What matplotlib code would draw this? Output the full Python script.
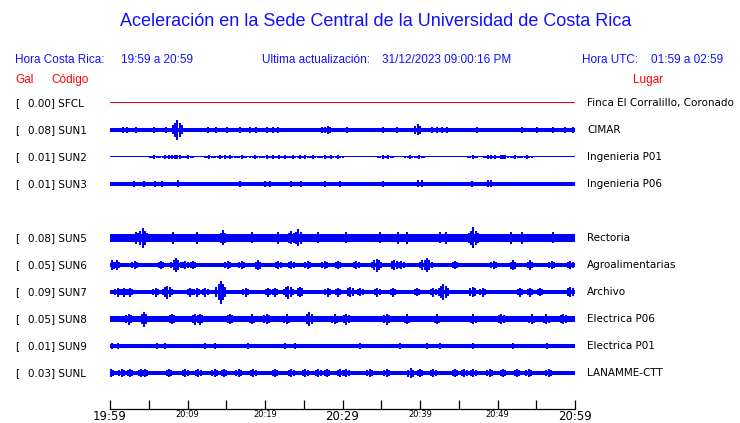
import matplotlib
matplotlib.use("Agg")
import matplotlib.pyplot as plt

W, H = 740, 423

# stations (top to bottom); slot 4 is empty in the picture
codes = ["SFCL", "SUN1", "SUN2", "SUN3", "SUN5", "SUN6", "SUN7", "SUN8", "SUN9", "SUNL"]
slots = [0, 1, 2, 3, 5, 6, 7, 8, 9, 10]
gal = [0.00, 0.08, 0.01, 0.01, 0.08, 0.05, 0.09, 0.05, 0.01, 0.03]
places = ["Finca El Corralillo, Coronado", "CIMAR", "Ingenieria P01", "Ingenieria P06",
          "Rectoria", "Agroalimentarias", "Archivo", "Electrica P06", "Electrica P01", "LANAMME-CTT"]
colors = ["red"] + ["blue"] * 9

# background amplitude of each trace (display units, 27 per slot)
base_amp = [0.5, 1.6, 0.5, 1.6, 3.8, 1.8, 2.3, 3.4, 1.7, 2.0]

# bursts: minute after 19:59 and amplitude
bursts_t = [
    [],
    [1.7, 2.2, 3.4, 5.7, 7.2, 8.7, 12.6, 13.7, 15.1, 16.8, 18.1, 18.8, 20.3, 21.0, 21.7, 27.4, 28.1,
     30.6, 35.2, 37.0, 39.7, 41.5, 42.2, 42.8, 43.5, 47.4, 53.2, 55.1, 57.2, 58.7, 59.7],
    [5.7, 7.1, 7.6, 8.0, 8.4, 8.7, 10.1, 12.8, 14.2, 14.8, 15.5, 17.0, 18.7, 20.2, 21.0, 21.8, 22.6,
     23.6, 24.5, 25.2, 26.2, 27.7, 28.5, 29.4, 35.2, 35.9, 38.7, 39.9, 46.8, 48.8, 49.2, 49.7, 50.7,
     52.3, 53.8],
    [3.1, 4.4, 5.8, 6.7, 8.8, 16.8, 20.0, 20.6, 23.4, 24.7, 27.7, 29.7, 35.2, 39.7, 40.3, 46.7,
     48.8, 49.2],
    [3.4, 4.2, 8.1, 11.2, 14.6, 18.3, 21.7, 23.4, 24.3, 26.8, 30.5, 34.8, 37.2, 38.3, 42.6, 43.4,
     46.9, 51.8, 53.1, 57.2],
    [0.2, 0.9, 3.2, 6.6, 8.5, 9.7, 10.7, 15.2, 17.0, 19.1, 21.7, 23.4, 25.5, 27.7, 29.4, 31.8, 34.4,
     36.7, 37.6, 40.3, 40.9, 44.5, 49.5, 52.0, 54.2, 57.0, 59.4],
    [1.0, 1.8, 2.6, 5.9, 7.4, 10.3, 11.2, 12.3, 14.3, 14.6, 17.5, 20.4, 21.3, 23.0, 24.5, 28.1, 29.4,
     31.0, 32.3, 34.5, 36.5, 39.6, 41.7, 43.0, 46.8, 48.1, 52.9, 54.2, 55.5, 59.4],
    [2.4, 4.4, 8.0, 11.0, 11.6, 15.5, 18.3, 20.2, 22.8, 25.7, 29.0, 30.5, 35.7, 38.3, 42.2, 46.9,
     50.5, 54.4, 56.3, 58.5],
    [0.2, 1.0, 6.0, 7.1, 12.3, 13.5, 17.8, 22.6, 23.9, 32.3, 37.4, 40.9, 42.6, 46.8, 52.0, 56.4],
    [0.1, 1.5, 2.6, 4.0, 4.5, 7.6, 9.7, 11.4, 13.5, 14.7, 16.6, 18.5, 21.3, 23.4, 25.2, 26.9, 28.0,
     29.7, 30.5, 33.5, 35.7, 38.8, 40.0, 41.7, 44.5, 45.7, 46.9, 49.0, 50.7, 52.5, 54.0, 56.6],
]
bursts_a = [
    [],
    [3.2, 3.2, 3, 3, 3, 10, 3, 3, 3, 3, 3, 3, 3, 3, 3, 3, 4,
     3, 3, 3, 5.5, 3, 3, 3, 3, 3, 3, 3, 3, 3, 3.2],
    [1.8, 1.8, 1.8, 1.8, 1.8, 2.2, 1.8, 1.8, 1.8, 1.8, 1.8, 1.8, 1.8, 1.8, 1.8, 1.8, 1.8,
     1.8, 1.8, 1.8, 1.8, 1.8, 1.8, 1.8, 1.8, 1.8, 1.8, 1.8, 1.8, 1.8, 1.8, 1.8, 2.2,
     1.8, 1.8],
    [3, 3, 3, 3, 3.5, 3, 3, 3, 3, 3, 3, 3, 3, 3.5, 3.5, 3,
     3.5, 3.5],
    [6, 10, 6, 6, 7.5, 5.5, 6, 6.5, 8.5, 5.5, 5.5, 5.5, 6, 6, 5.5, 6,
     10.5, 6, 6, 5.5],
    [5, 4.5, 3.8, 3.8, 7, 3.8, 3.8, 3.8, 3.8, 5, 3.8, 3.8, 4, 3.8, 3.8, 3.8, 6.5,
     5.5, 3.8, 4.5, 7, 3.8, 4, 5, 4.5, 3.8, 3.8],
    [4.5, 4.5, 4.5, 4.5, 6.5, 4.5, 4.5, 4.5, 11.5, 5.5, 4.5, 4.5, 4.5, 6.5, 5.5, 4.5, 4.5,
     5.5, 4, 4.5, 4.5, 4, 4.5, 8, 5.5, 4.5, 4.5, 4.5, 4, 5.5],
    [5.5, 7.5, 5.2, 5.5, 5.5, 5.2, 5, 5.2, 5, 7, 5, 5.5, 5.5, 5, 5, 5,
     5.2, 5, 5, 5.2],
    [2.6, 2.6, 2.6, 2.6, 2.6, 2.6, 2.6, 2.6, 2.6, 2.6, 2.6, 2.6, 2.6, 2.6, 2.6, 2.6],
    [4, 3.8, 3.8, 3.8, 3.8, 4.5, 3.8, 3.8, 3.8, 4, 3.8, 3.8, 3.8, 3.8, 3.8, 4, 4,
     4, 4, 3.8, 3.8, 5, 3.8, 3.8, 3.8, 4.5, 3.8, 4, 4, 3.8, 4, 3.8],
]

tick_min = list(range(0, 61, 5))
tick_lab = ["19:59", "", "20:09", "", "20:19", "", "20:29", "", "20:39", "", "20:49", "", "20:59"]
big_ticks = ["19:59", "20:29", "20:59"]

slot_px = 27.0
fig = plt.figure(figsize=(W / 100, H / 100), dpi=100)


def fx(x):
    return x / W


def fy(y):
    return 1 - y / H


# trace area: first baseline at y=103 px, axis line at y=409 px
y_top = 103 - slot_px / 2
y_bot = 409
ax = fig.add_axes([fx(110), fy(y_bot), fx(575) - fx(110), fy(y_top) - fy(y_bot)])
ax.set_xlim(0, 60)
ax.set_ylim((y_bot - 103) / slot_px, -0.5)

# each burst drawn as a short wavelet: peak plus decaying shoulders
shape_dt = [0.0, -0.3, 0.3, -0.6, 0.6]
shape_k = [1.0, 0.7, 0.7, 0.45, 0.45]

for i in range(len(codes)):
    y0 = slots[i]
    b = base_amp[i] / slot_px
    ax.fill_between([0, 60], y0 - b, y0 + b, color=colors[i], lw=0, antialiased=False)
    xs, lo, hi = [], [], []
    for t, a in zip(bursts_t[i], bursts_a[i]):
        for dt, k in zip(shape_dt, shape_k):
            aa = max(a * k, base_amp[i]) / slot_px
            if 0 <= t + dt <= 60:
                xs.append(t + dt)
                lo.append(y0 - aa)
                hi.append(y0 + aa)
    if xs:
        ax.vlines(xs, lo, hi, color=colors[i], lw=1.1, antialiased=False)
    ty = fy(103 + y0 * slot_px)
    fig.text(fx(15), ty, "[", fontsize=7.5, va="center", family="DejaVu Sans")
    fig.text(fx(27.5), ty, f"{gal[i]:.2f}] {codes[i]}", fontsize=7.5, va="center", family="DejaVu Sans")
    fig.text(fx(587), ty, places[i], fontsize=7.5, va="center", family="DejaVu Sans")

for s in ["top", "left", "right"]:
    ax.spines[s].set_visible(False)
ax.spines["bottom"].set_linewidth(0.9)
ax.set_yticks([])
ax.set_xticks(tick_min)
ax.set_xticklabels(tick_lab)
ax.tick_params(axis="x", direction="in", length=6.5, width=0.9, pad=1)
for lab in ax.get_xticklabels():
    lab.set_family("DejaVu Sans")
    lab.set_fontsize(8.5 if lab.get_text() in big_ticks else 6)

# header
hdr = dict(family="Liberation Sans", color="#1010ff", va="center")
fig.text(0.5 * (fx(120) + fx(632)), fy(22),
         "Aceleración en la Sede Central de la Universidad de Costa Rica",
         fontsize=13, ha="center", **hdr)
fig.text(fx(15), fy(60), "Hora Costa Rica:", fontsize=8.5, **hdr)
fig.text(fx(121), fy(60), "19:59 a 20:59", fontsize=8.5, **hdr)
fig.text(fx(262), fy(60), "Ultima actualización:", fontsize=8.5, **hdr)
fig.text(fx(382), fy(60), "31/12/2023 09:00:16 PM", fontsize=8.5, **hdr)
fig.text(fx(582), fy(60), "Hora UTC:", fontsize=8.5, **hdr)
fig.text(fx(651), fy(60), "01:59 a 02:59", fontsize=8.5, **hdr)

red = dict(family="Liberation Sans", color="red", va="center", fontsize=8.5)
fig.text(fx(15), fy(80), "Gal", **red)
fig.text(fx(51), fy(80), "Código", **red)
fig.text(fx(633), fy(80), "Lugar", **red)

fig.savefig("out.png", dpi=100)
